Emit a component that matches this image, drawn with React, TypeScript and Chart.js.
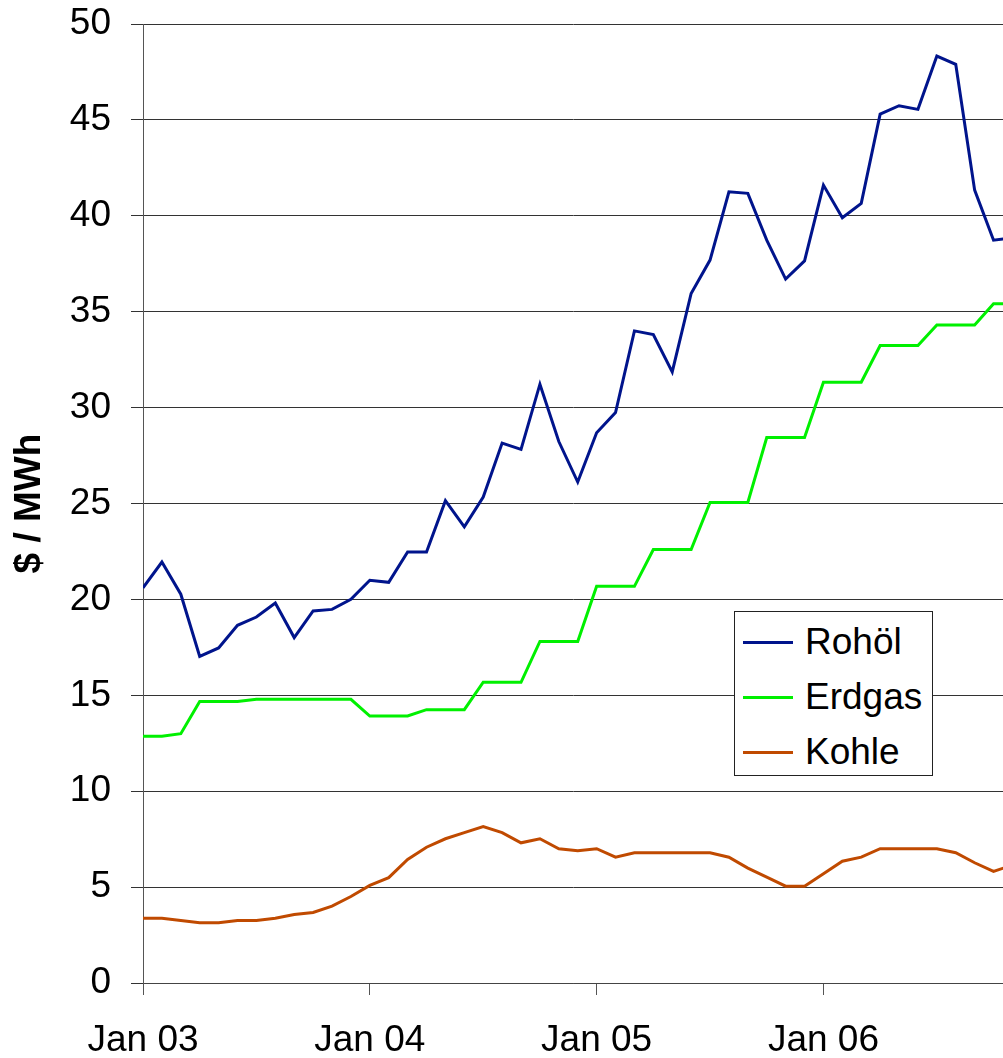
import React, { useEffect, useRef } from "react";
import { Chart, registerables } from "chart.js";

Chart.register(...registerables);

const months: string[] = [
  "Jan 03", "Feb 03", "Mär 03", "Apr 03", "Mai 03", "Jun 03", "Jul 03", "Aug 03", "Sep 03", "Okt 03", "Nov 03", "Dez 03",
  "Jan 04", "Feb 04", "Mär 04", "Apr 04", "Mai 04", "Jun 04", "Jul 04", "Aug 04", "Sep 04", "Okt 04", "Nov 04", "Dez 04",
  "Jan 05", "Feb 05", "Mär 05", "Apr 05", "Mai 05", "Jun 05", "Jul 05", "Aug 05", "Sep 05", "Okt 05", "Nov 05", "Dez 05",
  "Jan 06", "Feb 06", "Mär 06", "Apr 06", "Mai 06", "Jun 06", "Jul 06", "Aug 06", "Sep 06", "Okt 06", "Nov 06",
];

const rohoel: number[] = [
  20.6, 21.95, 20.27, 17.03, 17.47, 18.65, 19.08, 19.81, 18.01, 19.4, 19.48, 20.0,
  21.0, 20.89, 22.47, 22.47, 25.15, 23.78, 25.34, 28.15, 27.82, 31.22, 28.23, 26.12,
  28.69, 29.74, 34.0, 33.81, 31.86, 35.95, 37.69, 41.25, 41.17, 38.73, 36.7, 37.65,
  41.6, 39.9, 40.65, 45.3, 45.74, 45.55, 48.33, 47.9, 41.34, 38.73, 38.85,
];

const erdgas: number[] = [
  12.86, 12.86, 13.0, 14.68, 14.68, 14.68, 14.79, 14.79, 14.79, 14.79, 14.79, 14.79,
  13.92, 13.92, 13.92, 14.25, 14.25, 14.25, 15.68, 15.68, 15.68, 17.81, 17.81, 17.81,
  20.68, 20.68, 20.68, 22.6, 22.6, 22.6, 25.05, 25.05, 25.05, 28.44, 28.44, 28.44,
  31.32, 31.32, 31.32, 33.24, 33.24, 33.24, 34.31, 34.31, 34.31, 35.41, 35.41,
];

const kohle: number[] = [
  3.38, 3.38, 3.26, 3.14, 3.14, 3.26, 3.26, 3.38, 3.57, 3.68, 4.01, 4.51,
  5.09, 5.49, 6.44, 7.08, 7.52, 7.84, 8.16, 7.84, 7.31, 7.52, 7.0, 6.9,
  7.0, 6.56, 6.79, 6.79, 6.79, 6.79, 6.79, 6.56, 5.99, 5.52, 5.05, 5.05,
  5.7, 6.35, 6.56, 7.0, 7.0, 7.0, 7.0, 6.79, 6.27, 5.82, 6.15,
];

const yTicks: number[] = [0, 5, 10, 15, 20, 25, 30, 35, 40, 45, 50];
const xTickIndices: number[] = [0, 12, 24, 36];

const seriesNames = ["Rohöl", "Erdgas", "Kohle"];
const seriesColors = ["#00148C", "#00F000", "#C04A00"];

const FONT = "'Liberation Sans', Arial, Helvetica, sans-serif";

export default function App() {
  const canvasRef = useRef<HTMLCanvasElement | null>(null);

  useEffect(() => {
    const canvas = canvasRef.current;
    if (!canvas) return;
    const toPts = (arr: number[]) => arr.map((y, i) => ({ x: i, y }));
    const chart = new Chart(canvas, {
      type: "line",
      data: {
        datasets: [rohoel, erdgas, kohle].map((arr, k) => ({
          label: seriesNames[k],
          data: toPts(arr),
          borderColor: seriesColors[k],
          backgroundColor: seriesColors[k],
          borderWidth: 3,
          pointRadius: 0,
          tension: 0,
          fill: false,
        })),
      },
      options: {
        animation: false,
        responsive: false,
        maintainAspectRatio: false,
        devicePixelRatio: 1,
        layout: { padding: { top: 24, right: 0, bottom: 0, left: 0 } },
        plugins: {
          legend: { display: false },
          tooltip: { enabled: false },
        },
        scales: {
          x: {
            type: "linear",
            min: 0,
            max: 45.5,
            afterBuildTicks: (scale: any) => {
              scale.ticks = xTickIndices.map((v) => ({ value: v }));
            },
            afterFit: (scale: any) => {
              scale.height = 75;
              scale.paddingLeft = 0;
              scale.paddingRight = 0;
            },
            ticks: {
              autoSkip: false,
              maxRotation: 0,
              minRotation: 0,
              padding: 24,
              color: "#000",
              font: { family: FONT, size: 37, lineHeight: 1.2 },
              callback: (value: any) => months[Number(value)] ?? "",
            },
            grid: {
              drawOnChartArea: false,
              drawTicks: true,
              tickLength: 12,
              color: "#555",
              lineWidth: 1,
            },
            border: { display: true, color: "#444", width: 1 },
          },
          y: {
            type: "linear",
            min: 0,
            max: 50,
            afterBuildTicks: (scale: any) => {
              scale.ticks = yTicks.map((v) => ({ value: v }));
            },
            afterFit: (scale: any) => {
              scale.width = 143;
              scale.paddingTop = 0;
              scale.paddingBottom = 0;
            },
            ticks: {
              padding: 20,
              color: "#000",
              font: { family: FONT, size: 37, lineHeight: 1.2 },
            },
            grid: {
              drawOnChartArea: true,
              drawTicks: true,
              tickLength: 12,
              color: "#333",
              lineWidth: 1,
            },
            border: { display: true, color: "#555", width: 1 },
            title: {
              display: true,
              text: "$ / MWh",
              color: "#000",
              padding: { top: 8, bottom: 0 },
              font: { family: FONT, size: 37, weight: "bold", lineHeight: 1.2 },
            },
          },
        },
      },
    });
    return () => chart.destroy();
  }, []);

  return (
    <div
      style={{
        position: "fixed",
        left: 0,
        top: 0,
        width: 1003,
        height: 1058,
        overflow: "hidden",
        background: "#fff",
      }}
    >
      <canvas ref={canvasRef} width={1003} height={1058} style={{ display: "block", width: 1003, height: 1058 }} />
      <div
        style={{
          position: "absolute",
          left: 734,
          top: 611,
          width: 197,
          height: 163,
          border: "1px solid #222",
          background: "#fff",
          fontFamily: FONT,
          fontSize: 37,
          color: "#000",
        }}
      >
        {seriesNames.map((name, k) => (
          <div
            key={name}
            style={{
              position: "absolute",
              left: 0,
              top: 8 + k * 55,
              height: 44,
              display: "flex",
              alignItems: "center",
              whiteSpace: "nowrap",
            }}
          >
            <span
              style={{
                display: "inline-block",
                marginLeft: 8,
                width: 50,
                height: 3,
                background: seriesColors[k],
              }}
            />
            <span style={{ marginLeft: 12, lineHeight: "44px" }}>{name}</span>
          </div>
        ))}
      </div>
    </div>
  );
}
